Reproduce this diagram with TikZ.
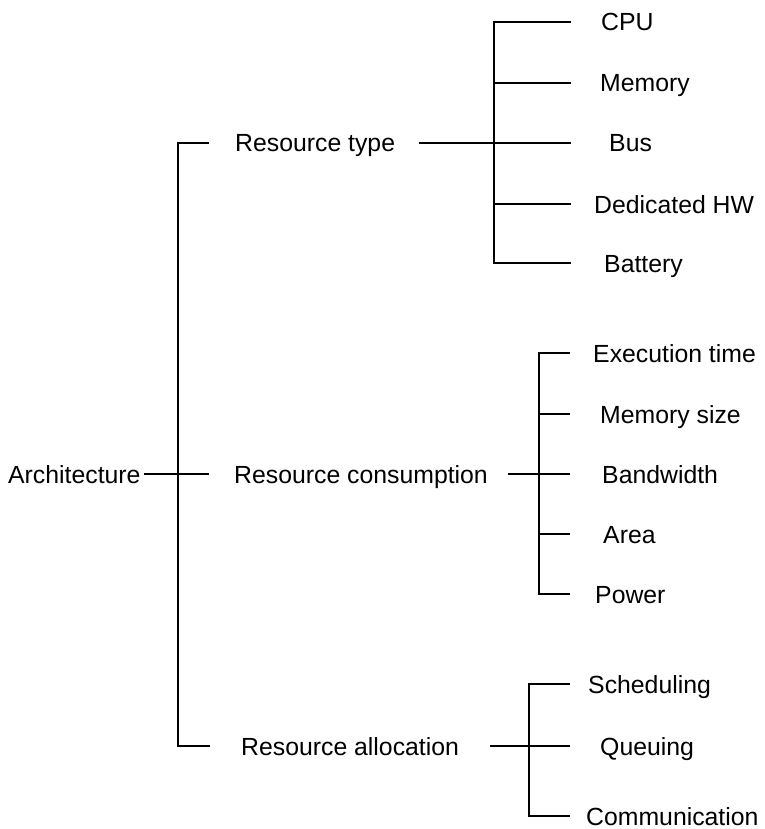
\documentclass[tikz,border=0pt]{standalone}
\usepackage{fontspec}
\setmainfont{Liberation Sans}
\begin{document}
\begin{tikzpicture}[x=1pt,y=-1pt,
  lbl/.style={anchor=base west, inner sep=0pt, font=\fontsize{24.8}{30}\selectfont},
  twig/.style={line width=1.1pt, line cap=rect},
  stem/.style={line width=2pt}]
\useasboundingbox (0,0) rectangle (764,829);

% ---- labels (baseline = line height + 9) ----
\node[lbl] (arch)  at (8,483)   {Architecture};
\node[lbl] (rtype) at (235,152) {Resource type};
\node[lbl] (rcons) at (234,483) {Resource consumption};
\node[lbl] (ralloc) at (241,755) {Resource allocation};

\node[lbl] (cpu)  at (601,31)  {CPU};
\node[lbl] (mem)  at (600,92)  {Memory};
\node[lbl] (bus)  at (609,152) {Bus};
\node[lbl] (dhw)  at (594,213) {Dedicated HW};
\node[lbl] (bat)  at (604,272) {Battery};

\node[lbl] (exe)  at (593,362) {Execution time};
\node[lbl] (msz)  at (600,423) {Memory size};
\node[lbl] (bw)   at (602,483) {Bandwidth};
\node[lbl] (area) at (603,543) {Area};
\node[lbl] (pow)  at (595,603) {Power};

\node[lbl] (sch)  at (588,693) {Scheduling};
\node[lbl] (que)  at (600,755) {Queuing};
\node[lbl] (com)  at (586,825) {Communication};

% ---- main bracket ----
\coordinate (a0) at (145,474);
\coordinate (a1) at (208,474);
\coordinate (m0) at (178,143);
\coordinate (m1) at (178,746);
\coordinate (mt) at (208,143);
\coordinate (mb) at (209,746);
\draw[twig] (mt) -- (m0) -- (m1) -- (mb);
\draw[twig] (a0) -- (a1);

% ---- resource type bracket ----
\coordinate (s1a) at (419,143);
\coordinate (t1a) at (494,22);
\coordinate (t1b) at (494,263);
\draw[stem] (s1a) -- (494,143);
\draw[twig] (t1a) -- (t1b);
\foreach \y in {22,83,143,204,263}
  \draw[twig] (494,\y) -- (570,\y);

% ---- resource consumption bracket ----
\coordinate (s2a) at (508,474);
\coordinate (t2a) at (539,353);
\coordinate (t2b) at (539,594);
\draw[stem] (s2a) -- (539,474);
\draw[twig] (t2a) -- (t2b);
\foreach \y in {353,414,474,534,594}
  \draw[twig] (539,\y) -- (569,\y);

% ---- resource allocation bracket ----
\coordinate (s3a) at (490,746);
\coordinate (t3a) at (529,684);
\coordinate (t3b) at (529,816);
\draw[stem] (s3a) -- (529,746);
\draw[twig] (t3a) -- (t3b);
\foreach \y in {684,746,816}
  \draw[twig] (529,\y) -- (569,\y);
\end{tikzpicture}
\end{document}
